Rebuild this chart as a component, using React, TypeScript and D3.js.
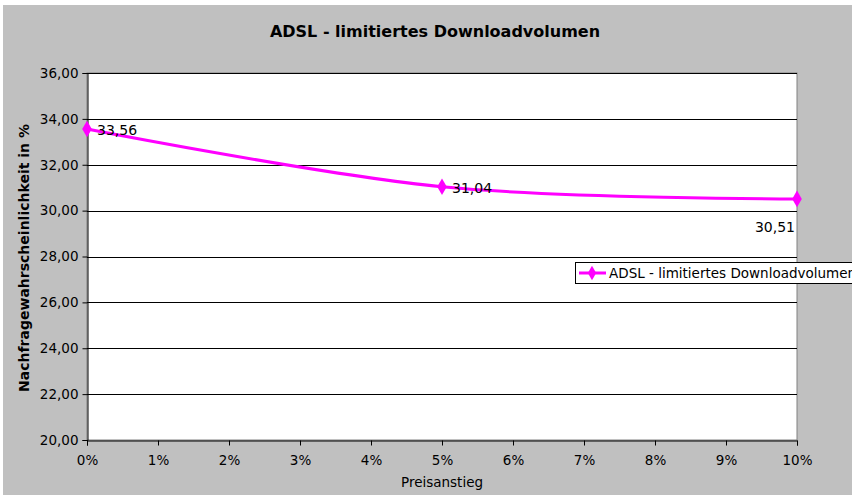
import { useEffect, useRef } from "react";
import * as d3 from "d3";

const xTicks = [0, 1, 2, 3, 4, 5, 6, 7, 8, 9, 10];
const yTicks = [20, 22, 24, 26, 28, 30, 32, 34, 36];
const pricePct = [0, 5, 10];
const probability = [33.56, 31.04, 30.51];
const seriesName = "ADSL - limitiertes Downloadvolumen";

const W = 852;
const H = 495;
const PLOT = { left: 87, right: 797, top: 73, bottom: 440 };
const FONT = "'DejaVu Sans', Verdana, sans-serif";
const MAGENTA = "#ff00ff";

const fmt = (v: number) => v.toFixed(2).replace(".", ",");

export default function App() {
  const svgRef = useRef<SVGSVGElement | null>(null);

  useEffect(() => {
    const svg = d3.select(svgRef.current);
    svg.selectAll("*").remove();

    const x = d3.scaleLinear().domain([0, 10]).range([PLOT.left, PLOT.right]);
    const y = d3.scaleLinear().domain([20, 36]).range([PLOT.bottom, PLOT.top]);

    // chart background
    svg.append("rect").attr("x", 0).attr("y", 0).attr("width", W).attr("height", H).attr("fill", "#fff");
    svg.append("rect").attr("x", 3).attr("y", 5).attr("width", W - 3).attr("height", H - 5).attr("fill", "#c0c0c0");

    // plot area
    svg
      .append("rect")
      .attr("x", PLOT.left)
      .attr("y", PLOT.top)
      .attr("width", PLOT.right - PLOT.left)
      .attr("height", PLOT.bottom - PLOT.top)
      .attr("fill", "#fff")
      .attr("stroke", "#808080")
      .attr("stroke-width", 1);

    // gridlines
    svg
      .append("g")
      .selectAll("line")
      .data(yTicks.slice(1))
      .join("line")
      .attr("x1", PLOT.left)
      .attr("x2", PLOT.right)
      .attr("y1", (d) => Math.round(y(d)) + 0.5)
      .attr("y2", (d) => Math.round(y(d)) + 0.5)
      .attr("stroke", "#000")
      .attr("stroke-width", 1);

    // y axis
    const yAxis = svg
      .append("g")
      .attr("transform", `translate(${PLOT.left + 0.5},0)`)
      .call(
        d3
          .axisLeft(y)
          .tickValues(yTicks)
          .tickSize(5)
          .tickPadding(4)
          .tickFormat((d) => fmt(d as number))
      );
    yAxis.select(".domain").attr("stroke", "#000");
    yAxis.selectAll("text").attr("font-family", FONT).attr("font-size", 13.5).attr("fill", "#000");

    // x axis
    const xAxis = svg
      .append("g")
      .attr("transform", `translate(0,${PLOT.bottom + 0.5})`)
      .call(
        d3
          .axisBottom(x)
          .tickValues(xTicks)
          .tickSize(5)
          .tickPadding(10)
          .tickFormat((d) => `${d}%`)
      );
    xAxis.select(".domain").attr("stroke", "#000");
    xAxis.selectAll("text").attr("font-family", FONT).attr("font-size", 13.5).attr("fill", "#000");

    // titles
    svg
      .append("text")
      .attr("x", 435)
      .attr("y", 37)
      .attr("text-anchor", "middle")
      .attr("font-family", FONT)
      .attr("font-weight", "bold")
      .attr("font-size", 16)
      .text(seriesName);

    svg
      .append("text")
      .attr("x", 442)
      .attr("y", 487)
      .attr("text-anchor", "middle")
      .attr("font-family", FONT)
      .attr("font-size", 13.5)
      .text("Preisanstieg");

    svg
      .append("text")
      .attr("transform", `translate(29,258) rotate(-90)`)
      .attr("text-anchor", "middle")
      .attr("font-family", FONT)
      .attr("font-weight", "bold")
      .attr("font-size", 14)
      .text("Nachfragewahrscheinlichkeit in %");

    // series
    const pts: [number, number][] = pricePct.map((p, i) => [x(p), y(probability[i])]);
    const line = d3.line().curve(d3.curveCardinal.tension(0));
    svg
      .append("path")
      .attr("d", line(pts) ?? "")
      .attr("fill", "none")
      .attr("stroke", MAGENTA)
      .attr("stroke-width", 3);

    const diamond = d3.symbol().type(d3.symbolDiamond).size(80);
    svg
      .append("g")
      .selectAll("path")
      .data(pts)
      .join("path")
      .attr("transform", (d) => `translate(${d[0]},${d[1]})`)
      .attr("d", diamond() ?? "")
      .attr("fill", MAGENTA);

    // data labels
    const labelPos = [
      { dx: 10, dy: 6, anchor: "start" },
      { dx: 10, dy: 6, anchor: "start" },
      { dx: -2, dy: 33, anchor: "end" },
    ];
    svg
      .append("g")
      .selectAll("text")
      .data(pts)
      .join("text")
      .attr("x", (d, i) => d[0] + labelPos[i].dx)
      .attr("y", (d, i) => d[1] + labelPos[i].dy)
      .attr("text-anchor", (d, i) => labelPos[i].anchor)
      .attr("font-family", FONT)
      .attr("font-size", 14)
      .attr("fill", "#000")
      .text((d, i) => fmt(probability[i]));

    // legend (clipped at the right edge as in the source)
    const lg = svg.append("g").attr("transform", "translate(575,262)");
    lg.append("rect")
      .attr("x", 0.5)
      .attr("y", 0.5)
      .attr("width", 300)
      .attr("height", 21)
      .attr("fill", "#fff")
      .attr("stroke", "#000");
    lg.append("line")
      .attr("x1", 4)
      .attr("x2", 31)
      .attr("y1", 11)
      .attr("y2", 11)
      .attr("stroke", MAGENTA)
      .attr("stroke-width", 3);
    lg.append("path")
      .attr("transform", "translate(17,11)")
      .attr("d", d3.symbol().type(d3.symbolDiamond).size(60)() ?? "")
      .attr("fill", MAGENTA);
    lg.append("text")
      .attr("x", 34)
      .attr("y", 16)
      .attr("font-family", FONT)
      .attr("font-size", 13.5)
      .text(seriesName);
  }, []);

  return (
    <svg
      ref={svgRef}
      width={W}
      height={H}
      style={{ position: "absolute", left: 0, top: 0, display: "block" }}
    />
  );
}
